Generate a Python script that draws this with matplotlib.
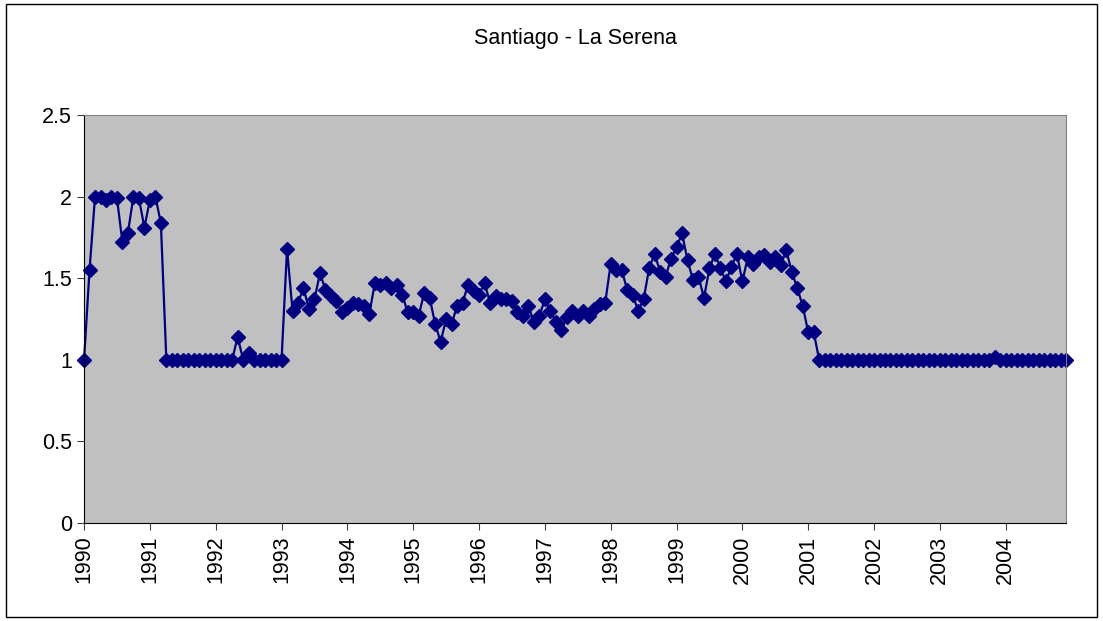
import numpy as np
import matplotlib.pyplot as plt
from matplotlib.patches import Rectangle

plt.rcParams['font.family'] = ['Liberation Sans', 'DejaVu Sans']

# monthly values, Jan 1990 .. Dec 2004
v1990 = [1.0, 1.55, 2.0, 2.0, 1.98, 2.0, 1.99, 1.72, 1.78, 2.0, 1.99, 1.81]
v1991 = [1.98, 2.0, 1.84, 1.0, 1.0, 1.0, 1.0, 1.0, 1.0, 1.0, 1.0, 1.0]
v1992 = [1.0, 1.0, 1.0, 1.0, 1.14, 1.0, 1.04, 1.0, 1.0, 1.0, 1.0, 1.0]
v1993 = [1.0, 1.68, 1.30, 1.35, 1.44, 1.31, 1.37, 1.53, 1.43, 1.39, 1.36, 1.29]
v1994 = [1.32, 1.35, 1.34, 1.33, 1.28, 1.47, 1.46, 1.47, 1.44, 1.46, 1.40, 1.29]
v1995 = [1.29, 1.27, 1.41, 1.38, 1.22, 1.11, 1.25, 1.22, 1.33, 1.35, 1.46, 1.42]
v1996 = [1.40, 1.47, 1.35, 1.39, 1.37, 1.37, 1.36, 1.29, 1.27, 1.33, 1.23, 1.27]
v1997 = [1.37, 1.30, 1.23, 1.18, 1.26, 1.30, 1.27, 1.30, 1.27, 1.31, 1.34, 1.35]
v1998 = [1.59, 1.55, 1.55, 1.43, 1.40, 1.30, 1.37, 1.56, 1.65, 1.54, 1.51, 1.62]
v1999 = [1.69, 1.775, 1.61, 1.49, 1.51, 1.38, 1.56, 1.65, 1.56, 1.48, 1.57, 1.65]
v2000 = [1.48, 1.63, 1.59, 1.63, 1.64, 1.60, 1.63, 1.58, 1.67, 1.54, 1.44, 1.33]
v2001 = [1.17, 1.17, 1.0, 1.0, 1.0, 1.0, 1.0, 1.0, 1.0, 1.0, 1.0, 1.0]
v2002 = [1.0] * 12
v2003 = [1.0, 1.0, 1.0, 1.0, 1.0, 1.0, 1.0, 1.0, 1.0, 1.0, 1.02, 1.0]
v2004 = [1.0] * 12

years = list(range(1990, 2005))
values = (v1990 + v1991 + v1992 + v1993 + v1994 + v1995 + v1996 + v1997 +
          v1998 + v1999 + v2000 + v2001 + v2002 + v2003 + v2004)

fig = plt.figure(figsize=(11.03, 6.21), dpi=100)
fig.patches.append(Rectangle((0.005, 0.006), 0.99, 0.988, transform=fig.transFigure,
                             fill=False, edgecolor='black', linewidth=1))
ax = fig.add_axes([0.0762, 0.1578, 0.8903, 0.657])
ax.set_facecolor('#C0C0C0')

x = np.arange(len(values))
ax.plot(x, values, color='#000080', linewidth=1.6, marker='D', markersize=7.5,
        markerfacecolor='#000080', markeredgecolor='#000080', clip_on=False)

ax.set_xlim(0, len(values) - 1)
ax.set_ylim(0, 2.5)
ax.set_yticks([0, 0.5, 1, 1.5, 2, 2.5])
ax.set_yticklabels(['0', '0.5', '1', '1.5', '2', '2.5'])
ax.set_xticks(np.arange(0, len(values), 12))
ax.set_xticklabels([str(y) for y in years], rotation=90)
ax.tick_params(axis='both', direction='out', length=5, labelsize=15.5, color='#404040')
ax.tick_params(axis='x', pad=4)

for s in ['top', 'right']:
    ax.spines[s].set_color('#808080')
for s in ['left', 'bottom']:
    ax.spines[s].set_color('black')

ax.set_title('Santiago - La Serena', fontsize=15.5, pad=51)

fig.savefig('out.png', dpi=100)
